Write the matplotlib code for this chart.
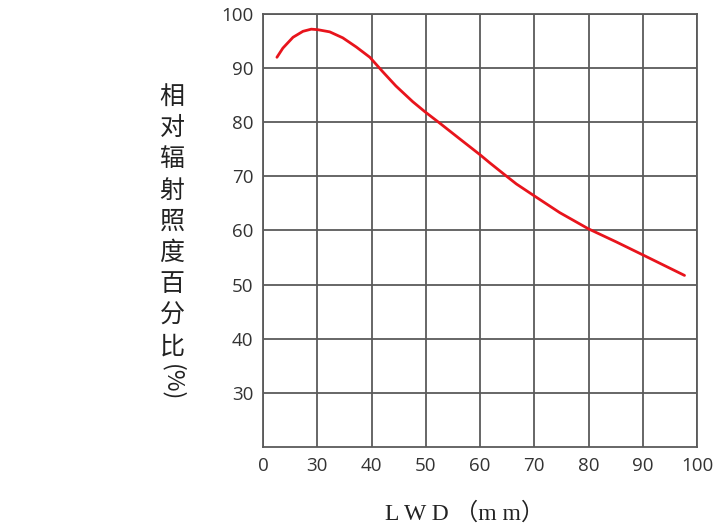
import numpy as np
import matplotlib
matplotlib.use("Agg")
import matplotlib.pyplot as plt

# LWD (mm) vs relative irradiance (%)
lwd = [7.7, 11.0, 16.6, 22.1, 26.7, 30.1, 32.3, 34.7, 37.2, 39.7, 42.1, 44.5,
       47.6, 49.9, 52.5, 56.3, 60, 61.8, 64.3, 66.7, 70, 74.7, 80, 85.1, 90, 97.7]
irr = [92.0, 93.7, 95.7, 96.8, 97.2, 97.1, 96.7, 95.6, 93.9, 92.0, 89.3, 86.7,
       83.8, 81.9, 79.9, 76.9, 74.0, 72.5, 70.5, 68.6, 66.4, 63.3, 60.3, 57.9,
       55.5, 51.7]

x_ticks = [0, 30, 40, 50, 60, 70, 80, 90, 100]
y_ticks = [30, 40, 50, 60, 70, 80, 90, 100]
y_label_chars = list("相对辐射照度百分比")
x_label = "L W D （m m）"

# axis is broken: 0 -> 30 squeezed into one grid cell
brk_x = [0, 30, 100]
brk_p = [0, 1, 8]


def fwd(x):
    return np.interp(x, brk_x, brk_p)


def inv(p):
    return np.interp(p, brk_p, brk_x)


fig = plt.figure(figsize=(7.13, 5.31), dpi=100)
ax = fig.add_axes([263 / 713, 1 - 447 / 531, 434 / 713, (447 - 14) / 531])

ax.set_xscale("function", functions=(fwd, inv))
ax.set_xlim(0, 100)
ax.set_ylim(20, 100)
ax.set_xticks(x_ticks)
ax.set_yticks(y_ticks)
ax.set_xticklabels([str(t) for t in x_ticks])
ax.minorticks_off()

grid_c = "#5a5a5a"
ax.grid(True, color=grid_c, linewidth=1.3)
ax.set_axisbelow(True)
for s in ax.spines.values():
    s.set_color(grid_c)
    s.set_linewidth(1.3)
ax.tick_params(length=0, labelsize=13.5, labelcolor="#333333", pad=7,
               which="both")
for lab in ax.get_xticklabels() + ax.get_yticklabels():
    lab.set_family(["Open Sans", "DejaVu Sans"])

ax.plot(lwd, irr, color="#e8141c", linewidth=2.0, solid_capstyle="round",
        solid_joinstyle="round")

# vertical chinese y label
for i, ch in enumerate(y_label_chars):
    fig.text(172 / 713, 1 - (97 + i * 31.2) / 531, ch, ha="center", va="center",
             fontsize=18, color="#222222", family=["Noto Sans CJK SC"],
             fontweight="light")
fig.text(172 / 713, 1 - 383 / 531, "(%)", ha="center", va="center",
         rotation=-90, fontsize=17, color="#222222",
         family=["Noto Sans CJK SC", "DejaVu Sans"], fontweight="light")

fig.text(465 / 713, 1 - 514 / 531, x_label, ha="center", va="center",
         fontsize=17, color="#222222",
         family=["Liberation Serif", "Noto Sans CJK SC"])

fig.savefig("out.png", dpi=100)
